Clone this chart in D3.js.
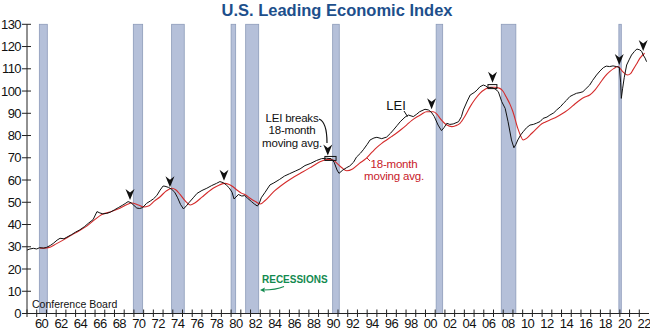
<!DOCTYPE html>
<html><head><meta charset="utf-8">
<script src="https://cdn.jsdelivr.net/npm/d3@7"></script>
<style>
body{margin:0;background:#fff;}
svg{display:block;font-family:"Liberation Sans",Arial,sans-serif;}
</style></head>
<body><svg id="c" width="650" height="333"></svg>
<script>
// ---- data ----
const leiYears = [1959.0,1959.3,1959.65,1960.0,1960.3,1960.7,1961.0,1961.4,1961.7,1962.1,1962.4,1962.8,1963.1,1963.6,1964.0,1964.4,1964.9,1965.3,1965.8,1966.2,1966.5,1966.8,1967.2,1967.6,1968.0,1968.4,1968.8,1969.1,1969.4,1969.7,1970.0,1970.3,1970.6,1970.9,1971.3,1971.7,1972.0,1972.35,1972.7,1973.0,1973.2,1973.55,1973.9,1974.2,1974.5,1974.8,1975.1,1975.4,1975.7,1976.1,1976.5,1977.0,1977.5,1978.0,1978.5,1978.85,1979.2,1979.5,1979.8,1980.1,1980.3,1980.5,1980.75,1981.1,1981.4,1981.7,1982.1,1982.4,1982.7,1982.9,1983.1,1983.5,1984.0,1984.4,1985.0,1985.5,1986.0,1986.6,1987.1,1987.6,1988.2,1988.8,1989.3,1989.8,1990.3,1990.6,1990.9,1991.1,1991.5,1991.9,1992.2,1992.6,1992.9,1993.3,1993.6,1994.0,1994.3,1994.7,1995.0,1995.5,1996.0,1996.4,1996.7,1997.1,1997.4,1997.9,1998.25,1998.75,1999.1,1999.4,1999.95,2000.3,2000.6,2000.9,2001.3,2001.65,2001.9,2002.2,2002.5,2002.85,2003.4,2003.7,2003.9,2004.3,2004.6,2005.0,2005.3,2005.6,2005.95,2006.2,2006.45,2006.8,2007.15,2007.5,2007.85,2008.2,2008.5,2008.85,2009.1,2009.3,2009.5,2009.8,2010.05,2010.4,2010.75,2011.1,2011.4,2011.8,2012.1,2012.5,2012.8,2013.2,2013.5,2013.9,2014.2,2014.5,2014.85,2015.2,2015.55,2015.9,2016.2,2016.5,2016.9,2017.2,2017.6,2017.95,2018.3,2018.6,2018.95,2019.3,2019.65,2019.95,2020.08,2020.15,2020.28,2020.45,2020.7,2020.95,2021.2,2021.5,2021.75,2022.05,2022.25,2022.4,2022.6,2022.75];
const leiValues = [28.5,29.0,29.3,29.0,29.6,29.4,29.7,30.6,31.5,33.0,33.8,33.6,34.3,35.5,36.6,37.5,39.0,40.5,42.2,45.8,45.2,44.8,45.0,45.6,46.6,47.6,48.6,49.4,50.3,49.8,48.6,47.4,47.2,47.6,49.5,50.6,51.5,53.0,55.5,57.3,57.2,56.7,55.8,54.5,52.0,49.0,47.0,48.4,50.0,52.0,54.0,55.3,56.3,57.5,58.5,59.3,58.8,57.8,56.5,54.5,51.5,52.3,53.5,52.8,53.0,51.8,50.3,49.2,48.3,49.5,52.0,54.5,57.8,58.7,60.3,61.8,62.8,64.0,65.0,66.5,67.5,68.8,69.6,69.8,69.6,68.0,64.5,63.0,64.5,65.6,66.3,68.0,70.3,72.0,73.6,76.0,78.0,78.9,79.2,78.6,79.3,81.0,82.5,84.6,86.2,88.3,89.2,88.5,89.6,90.7,91.8,91.5,90.5,88.6,84.7,82.2,83.5,85.5,85.0,85.2,86.2,88.5,91.5,95.5,98.2,99.3,100.4,101.9,102.7,102.3,101.4,101.6,101.0,99.7,95.2,92.2,86.2,78.0,74.5,76.0,78.0,80.3,81.7,83.5,84.7,85.0,85.5,86.3,87.7,88.3,89.2,90.2,91.5,93.0,94.5,95.8,97.5,98.3,99.0,99.3,99.7,101.0,102.7,104.8,107.2,109.0,110.5,111.2,111.0,111.3,111.0,110.6,104.0,96.7,101.0,106.0,111.7,114.0,116.2,117.8,118.9,118.5,117.8,116.2,114.8,113.2];

const maYears = [1960.3,1961.2,1962.0,1962.8,1963.4,1964.3,1965.15,1966.0,1966.7,1967.55,1968.55,1969.3,1969.75,1970.45,1971.0,1971.5,1972.1,1972.7,1973.3,1973.9,1974.3,1974.75,1975.3,1975.8,1976.3,1977.0,1977.6,1978.15,1978.8,1979.35,1979.8,1980.2,1980.6,1981.1,1981.5,1981.95,1982.5,1983.0,1983.5,1984.0,1984.5,1985.1,1985.7,1986.5,1987.4,1988.3,1989.15,1990.0,1990.5,1990.9,1991.4,1991.9,1992.5,1993.2,1993.9,1994.5,1995.0,1995.5,1996.0,1996.5,1997.0,1997.5,1998.05,1998.6,1999.1,1999.6,2000.1,2000.8,2001.2,2001.5,2002.2,2002.7,2003.1,2003.55,2004.1,2004.6,2005.1,2005.6,2006.1,2006.6,2007.1,2007.65,2008.0,2008.3,2008.7,2009.0,2009.5,2009.8,2010.05,2010.4,2010.75,2011.3,2011.8,2012.3,2012.8,2013.35,2013.85,2014.35,2014.85,2015.4,2015.9,2016.4,2016.9,2017.45,2017.95,2018.45,2018.95,2019.4,2019.8,2020.3,2020.8,2021.1,2021.35,2021.7,2022.05,2022.55];
const maValues = [29.3,29.6,31.3,33.2,34.8,37.0,39.3,42.3,44.5,45.6,47.3,49.0,49.7,48.8,47.9,48.3,50.5,52.5,55.0,56.3,55.6,53.5,50.5,48.8,49.8,52.3,54.5,56.3,57.8,58.5,58.0,57.0,55.5,54.0,53.3,51.8,50.3,49.2,50.8,53.0,55.2,57.3,59.2,61.5,63.7,66.0,68.2,69.3,69.0,67.5,65.5,64.2,65.0,67.5,69.7,72.5,74.7,76.5,78.0,79.5,81.0,82.7,84.7,86.8,88.3,89.6,90.7,90.7,89.5,87.7,84.7,84.0,84.4,85.5,89.0,93.0,96.3,99.0,100.7,101.7,101.7,101.2,99.8,97.4,94.0,90.7,83.2,79.8,78.0,78.7,80.2,82.5,84.7,86.0,87.0,88.0,89.2,90.6,92.2,94.3,96.0,97.3,98.2,100.5,103.5,106.5,108.7,110.2,111.0,108.7,107.2,107.8,109.5,112.0,114.7,117.0];

const recessionStart = [1960.27,1969.94,1973.88,1980.0,1981.5,1990.45,2001.1,2007.8,2019.9];
const recessionEnd   = [1961.09,1970.9,1975.18,1980.47,1982.84,1991.13,2001.77,2009.3,2020.15];

const peakArrowYears  = [1969.6,1973.71,1979.27,1989.95,2000.63,2006.9,2019.94,2022.4];
const peakArrowValues = [51.0,56.7,59.7,71.0,91.8,103.7,111.7,118.0];

const plateauYears = [[1989.65,1990.8],[2006.43,2007.35]];
const plateauValues = [[68.8,70.6],[101.1,102.9]];

const yTicks = d3.range(0,131,10);
const xYears = d3.range(1959,2023);
const xLabelYears = d3.range(1960,2023,2);

// ---- scales ----
const svg = d3.select("#c");
const x = d3.scaleLinear().domain([1959,2023]).range([27,649]);
const y = d3.scaleLinear().domain([0,130]).range([313.5,24.3]);

// recession bars
svg.append("g").selectAll("rect").data(recessionStart).join("rect")
  .attr("x",(d,i)=>x(d)).attr("width",(d,i)=>Math.max(2,x(recessionEnd[i])-x(d)))
  .attr("y",y(130)).attr("height",y(0)-y(130))
  .attr("fill","#b5c0d9").attr("stroke","#8c9bb9").attr("stroke-width",0.8);

// lines
const maData = maYears.map((d,i)=>[d,maValues[i]]);
const leiData = leiYears.map((d,i)=>[d,leiValues[i]]);
svg.append("path").datum(maData)
  .attr("d",d3.line().x(d=>x(d[0])).y(d=>y(d[1])).curve(d3.curveMonotoneX))
  .attr("fill","none").attr("stroke","#d42b2b").attr("stroke-width",1.1);
svg.append("path").datum(leiData)
  .attr("d",d3.line().x(d=>x(d[0])).y(d=>y(d[1])))
  .attr("fill","none").attr("stroke","#111").attr("stroke-width",1).attr("stroke-linejoin","round");

// plateau boxes
svg.append("g").selectAll("rect").data(plateauYears).join("rect")
  .attr("x",d=>x(d[0])).attr("width",d=>x(d[1])-x(d[0]))
  .attr("y",(d,i)=>y(plateauValues[i][1])).attr("height",(d,i)=>y(plateauValues[i][0])-y(plateauValues[i][1]))
  .attr("fill","none").attr("stroke","#111").attr("stroke-width",1);

// peak arrows
svg.append("g").selectAll("path").data(peakArrowYears).join("path")
  .attr("transform",(d,i)=>`translate(${x(d)},${y(peakArrowValues[i])})`)
  .attr("d","M0,0 L-4.5,-11 L0,-7.5 L4.5,-11 Z").attr("fill","#111");

// axes
const gy = svg.append("g");
gy.append("line").attr("x1",27).attr("x2",27).attr("y1",y(130)).attr("y2",y(0)).attr("stroke","#222");
gy.selectAll("line.t").data(yTicks).join("line").attr("class","t")
  .attr("x1",22).attr("x2",31).attr("y1",d=>y(d)).attr("y2",d=>y(d)).attr("stroke","#222");
gy.selectAll("text").data(yTicks).join("text")
  .attr("x",21).attr("y",d=>y(d)+4.6).attr("text-anchor","end")
  .attr("font-size",13).attr("letter-spacing",-0.6).attr("fill","#111").text(d=>d);

const gx = svg.append("g");
gx.append("line").attr("x1",27).attr("x2",649).attr("y1",y(0)).attr("y2",y(0)).attr("stroke","#222");
gx.selectAll("line.t").data(xYears).join("line").attr("class","t")
  .attr("x1",d=>x(d)).attr("x2",d=>x(d)).attr("y1",y(0)-4).attr("y2",y(0)+3.5).attr("stroke","#222");
gx.selectAll("text").data(xLabelYears).join("text")
  .attr("x",d=>x(d+0.5)).attr("y",328).attr("text-anchor","middle")
  .attr("font-size",13).attr("letter-spacing",-0.6).attr("fill","#111").text(d=>String(d%100).padStart(2,"0"));

// title
svg.append("text").attr("x",337).attr("y",16).attr("text-anchor","middle")
  .attr("font-size",16.5).attr("font-weight","bold").attr("fill","#1d4f8c").text("U.S. Leading Economic Index");

// annotations
svg.append("text").attr("x",32).attr("y",308).attr("font-size",10.5).attr("fill","#111").text("Conference Board");

const ann = svg.append("g").attr("font-size",11.5).attr("letter-spacing",-0.2).attr("fill","#111").attr("text-anchor","middle");
[["LEI breaks",121.5],["18-month",134],["moving avg.",146.5]].forEach(t=>
  ann.append("text").attr("x",292).attr("y",t[1]).text(t[0]));
svg.append("path").attr("d","M319,119 Q327,122 327,143").attr("fill","none").attr("stroke","#111").attr("stroke-width",1.2);

svg.append("text").attr("x",396).attr("y",110).attr("font-size",13).attr("text-anchor","middle").attr("fill","#111").text("LEI");
svg.append("line").attr("x1",404).attr("y1",111).attr("x2",407.5).attr("y2",116.5).attr("stroke","#111");

const ma = svg.append("g").attr("font-size",11.5).attr("letter-spacing",-0.2).attr("fill","#c8202a").attr("text-anchor","middle");
ma.append("text").attr("x",394).attr("y",167.5).text("18-month");
ma.append("text").attr("x",394).attr("y",180).text("moving avg.");
svg.append("line").attr("x1",370).attr("y1",161).attr("x2",367).attr("y2",158).attr("stroke","#c8202a");

svg.append("text").attr("x",262).attr("y",283).attr("font-size",10).attr("font-weight","bold").attr("fill","#138a4f").text("RECESSIONS");
svg.append("path").attr("d","M284,286.5 Q276,290 263,290").attr("fill","none").attr("stroke","#138a4f").attr("stroke-width",1.2);
svg.append("path").attr("d","M260,290 L265,287.5 L264,290 L265,292.5 Z").attr("fill","#138a4f");
</script></body></html>
